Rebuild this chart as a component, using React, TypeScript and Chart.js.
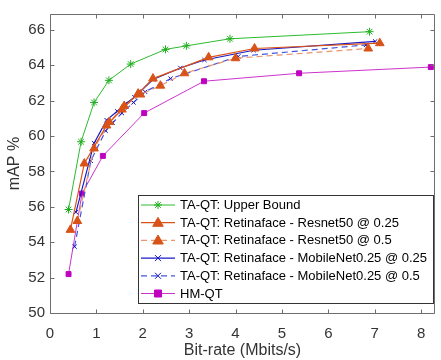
import React, { useEffect, useRef } from "react";
import { Chart, registerables } from "chart.js";
Chart.register(...registerables);

// ---- data ----
const upperX = [0.4, 0.67, 0.95, 1.27, 1.74, 2.49, 2.94, 3.88, 6.89];
const upperY = [55.85, 59.68, 61.9, 63.15, 64.07, 64.9, 65.1, 65.5, 65.9];

const res25X = [0.44, 0.74, 1.22, 1.55, 1.9, 2.22, 3.42, 4.41, 7.11];
const res25Y = [54.7, 58.45, 60.6, 61.5, 62.4, 63.25, 64.45, 64.95, 65.25];

const res50X = [0.59, 0.95, 1.28, 1.6, 1.95, 2.38, 2.9, 4.0, 6.86];
const res50Y = [55.2, 59.3, 60.8, 61.7, 62.35, 62.85, 63.55, 64.4, 64.95];

const mob25X = [0.56, 0.95, 1.22, 1.45, 1.62, 1.82, 2.22, 2.81, 3.33, 4.39, 7.01];
const mob25Y = [55.7, 59.6, 60.9, 61.4, 61.8, 62.2, 63.2, 63.85, 64.3, 64.85, 65.35];

const mob50X = [0.53, 0.88, 1.2, 1.35, 1.55, 1.8, 2.05, 2.6, 4.06, 6.81];
const mob50Y = [53.75, 58.6, 60.3, 60.75, 61.3, 61.9, 62.5, 63.25, 64.5, 65.15];

const hmX = [0.4, 0.69, 1.14, 2.03, 3.32, 5.37, 8.21];
const hmY = [52.2, 56.75, 58.88, 61.3, 63.1, 63.55, 63.9];

const seriesLabels = [
  "TA-QT: Upper Bound",
  "TA-QT: Retinaface - Resnet50 @ 0.25",
  "TA-QT: Retinaface - Resnet50 @ 0.5",
  "TA-QT: Retinaface - MobileNet0.25 @ 0.25",
  "TA-QT: Retinaface - MobileNet0.25 @ 0.5",
  "HM-QT",
];

const xTicks = [0, 1, 2, 3, 4, 5, 6, 7, 8];
const yTicks = [50, 52, 54, 56, 58, 60, 62, 64, 66];

const xTitle = "Bit-rate (Mbits/s)";
const yTitle = "mAP %";

const pts = (xs: number[], ys: number[]) => xs.map((x, i) => ({ x, y: ys[i] }));

const FONT = "'Liberation Sans', Arial, sans-serif";
const AXIS = "#6e6e6e";
const TXT = "#333333";

function drawMarker(ctx: CanvasRenderingContext2D, style: string, x: number, y: number, r: number) {
  ctx.beginPath();
  if (style === "triangle") {
    const h = r * 1.8;
    ctx.moveTo(x, y - h * 0.6);
    ctx.lineTo(x + r * 1.05, y + h * 0.4);
    ctx.lineTo(x - r * 1.05, y + h * 0.4);
    ctx.closePath();
    ctx.fill();
    ctx.stroke();
  } else if (style === "rect") {
    ctx.rect(x - r, y - r, 2 * r, 2 * r);
    ctx.fill();
    ctx.stroke();
  } else if (style === "crossRot") {
    ctx.moveTo(x - r, y - r);
    ctx.lineTo(x + r, y + r);
    ctx.moveTo(x + r, y - r);
    ctx.lineTo(x - r, y + r);
    ctx.stroke();
  } else if (style === "star") {
    ctx.moveTo(x - r, y);
    ctx.lineTo(x + r, y);
    ctx.moveTo(x, y - r);
    ctx.lineTo(x, y + r);
    const d = r * 0.7071;
    ctx.moveTo(x - d, y - d);
    ctx.lineTo(x + d, y + d);
    ctx.moveTo(x + d, y - d);
    ctx.lineTo(x - d, y + d);
    ctx.stroke();
  }
}

const boxPlugin = {
  id: "boxTicks",
  afterDraw(chart: any) {
    const { ctx, chartArea: a, scales } = chart;
    ctx.save();
    ctx.strokeStyle = AXIS;
    ctx.lineWidth = 1;
    const L = Math.round(a.left) + 0.5;
    const R = Math.round(a.right) - 0.5;
    const T = Math.round(a.top) + 0.5;
    const B = Math.round(a.bottom) + 0.5;
    ctx.beginPath();
    ctx.moveTo(L, T);
    ctx.lineTo(R, T);
    ctx.lineTo(R, B);
    ctx.lineTo(L, B);
    ctx.closePath();
    ctx.stroke();
    const tl = 4;
    ctx.beginPath();
    xTicks.forEach((v) => {
      const px = Math.round(scales.x.getPixelForValue(v)) + 0.5;
      ctx.moveTo(px, B);
      ctx.lineTo(px, B - tl);
      ctx.moveTo(px, T);
      ctx.lineTo(px, T + tl);
    });
    yTicks.forEach((v) => {
      const py = Math.round(scales.y.getPixelForValue(v)) + 0.5;
      ctx.moveTo(L, py);
      ctx.lineTo(L + tl, py);
      ctx.moveTo(R, py);
      ctx.lineTo(R - tl, py);
    });
    ctx.stroke();

    // legend
    const lx = 138.5, ly = 195.5, lw = 295, lh = 108;
    ctx.fillStyle = "#ffffff";
    ctx.fillRect(lx, ly, lw, lh);
    ctx.strokeStyle = "#333333";
    ctx.strokeRect(lx, ly, lw, lh);
    ctx.font = `13px ${FONT}`;
    ctx.textBaseline = "middle";
    chart.data.datasets.forEach((ds: any, i: number) => {
      const y = 205 + i * 17.7;
      ctx.save();
      ctx.strokeStyle = ds.borderColor;
      ctx.lineWidth = ds.borderWidth;
      ctx.setLineDash(ds.borderDash || []);
      ctx.beginPath();
      ctx.moveTo(141, y);
      ctx.lineTo(175, y);
      ctx.stroke();
      ctx.restore();
      ctx.save();
      ctx.fillStyle = ds.pointBackgroundColor;
      ctx.strokeStyle = ds.pointBorderColor;
      ctx.lineWidth = ds.pointBorderWidth;
      drawMarker(ctx, ds.pointStyle, 158, y, ds.pointRadius);
      ctx.restore();
      ctx.fillStyle = "#000000";
      ctx.fillText(ds.label, 180, y + 0.5);
    });
    ctx.restore();
  },
};

export default function App() {
  const ref = useRef<HTMLCanvasElement>(null);
  useEffect(() => {
    document.body.style.margin = "0";
    const canvas = ref.current!;
    const mk = (label: string, data: any[], line: string, mark: string, style: string, r: number, dash: number[], bw = 1) => ({
      label,
      data,
      borderColor: line,
      borderWidth: bw,
      borderDash: dash,
      pointStyle: style,
      pointRadius: r,
      pointBackgroundColor: mark,
      pointBorderColor: mark,
      pointBorderWidth: 1,
      showLine: true,
      fill: false,
      tension: 0,
    });
    const chart = new Chart(canvas, {
      type: "line",
      data: {
        datasets: [
          mk(seriesLabels[0], pts(upperX, upperY), "#2dbb2d", "#1fae1f", "star", 4, []),
          mk(seriesLabels[1], pts(res25X, res25Y), "#d95319", "#d95319", "triangle", 5, [], 1.2),
          mk(seriesLabels[2], pts(res50X, res50Y), "#e9956e", "#d95319", "triangle", 5, [6, 4], 1.2),
          mk(seriesLabels[3], pts(mob25X, mob25Y), "#1a1ac8", "#1010c0", "crossRot", 3, [], 1.2),
          mk(seriesLabels[4], pts(mob50X, mob50Y), "#4455dd", "#1010c0", "crossRot", 3, [6, 4], 1.2),
          mk(seriesLabels[5], pts(hmX, hmY), "#cc33cc", "#c000c0", "rect", 3.5, []),
        ] as any,
      },
      options: {
        responsive: false,
        animation: false,
        devicePixelRatio: 1,
        layout: { padding: { top: 6, right: 0, left: 0, bottom: 0 } },
        plugins: { legend: { display: false }, tooltip: { enabled: false } },
        scales: {
          x: {
            type: "linear",
            min: 0,
            max: 8.3,
            grid: { display: false, drawTicks: false },
            border: { display: false },
            ticks: {
              padding: 12,
              color: TXT,
              font: { family: FONT, size: 15 },
              maxRotation: 0,
            },
            afterBuildTicks: (s: any) => {
              s.ticks = xTicks.map((v) => ({ value: v }));
            },
            afterFit: (s: any) => {
              s.height = 47;
            },
            title: {
              display: true,
              text: xTitle,
              color: TXT,
              font: { family: FONT, size: 16 },
              padding: { top: 0, bottom: 0 },
            },
          },
          y: {
            type: "linear",
            min: 50,
            max: 66.9,
            grid: { display: false, drawTicks: false },
            border: { display: false },
            ticks: {
              padding: 5,
              color: TXT,
              font: { family: FONT, size: 15 },
            },
            afterBuildTicks: (s: any) => {
              s.ticks = yTicks.map((v) => ({ value: v }));
            },
            afterFit: (s: any) => {
              s.width = 50;
            },
            title: {
              display: true,
              text: yTitle,
              color: TXT,
              font: { family: FONT, size: 16 },
              padding: { top: 5, bottom: 0 },
            },
          },
        },
      } as any,
      plugins: [boxPlugin],
    });
    return () => chart.destroy();
  }, []);
  return (
    <div style={{ width: 441, height: 360 }}>
      <canvas ref={ref} width={441} height={360} style={{ display: "block", width: 441, height: 360 }} />
    </div>
  );
}
